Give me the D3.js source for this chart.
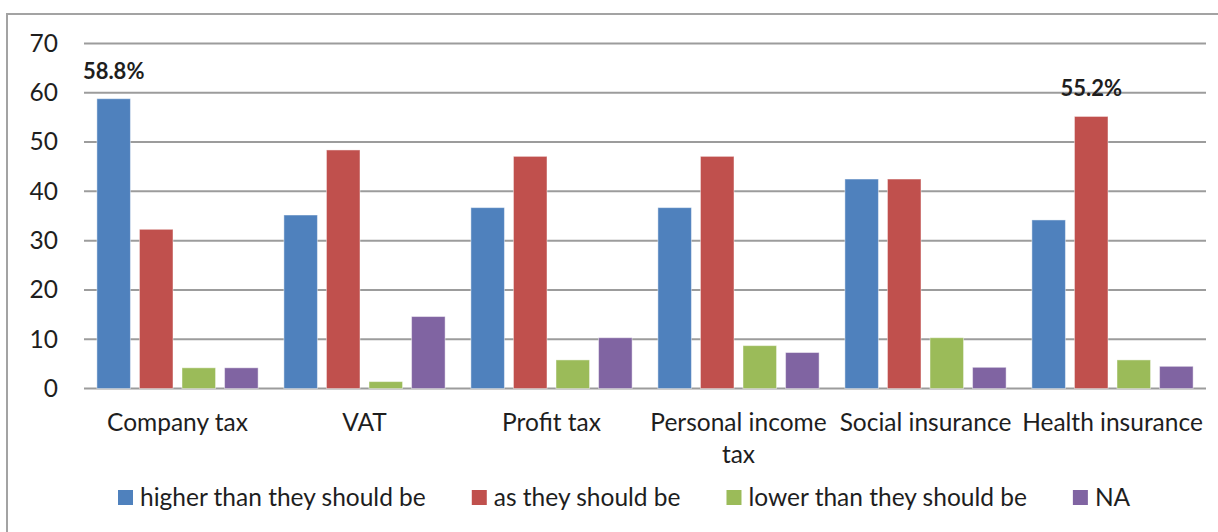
<!DOCTYPE html>
<html>
<head>
<meta charset="utf-8">
<script src="https://cdn.jsdelivr.net/npm/d3@7"></script>
<style>
  html, body { margin: 0; padding: 0; background: #fff; }
  svg { display: block; }
  text { font-family: Lato, "Open Sans", sans-serif; fill: #1e1e1e; }
</style>
</head>
<body>
<svg id="chart" width="1218" height="532"></svg>
<script>
// Survey answers on tax and contribution levels, percent of respondents
const categories = ["Company tax", "VAT", "Profit tax", "Personal income tax", "Social insurance", "Health insurance"];
const seriesNames = ["higher than they should be", "as they should be", "lower than they should be", "NA"];
const seriesColors = ["#4F81BD", "#C0504D", "#9BBB59", "#8064A2"];

const higher = [58.8, 35.2, 36.7, 36.7, 42.5, 34.2];
const asShould = [32.3, 48.4, 47.1, 47.1, 42.5, 55.2];
const lower = [4.2, 1.4, 5.8, 8.7, 10.3, 5.8];
const na = [4.2, 14.6, 10.3, 7.3, 4.3, 4.5];

const yTicks = [0, 10, 20, 30, 40, 50, 60, 70];

// Bars that carry a value label: [category index, series index]
const labelled = [[0, 0], [5, 1]];

const seriesValues = [higher, asShould, lower, na];

const svg = d3.select("#chart");

// Outer frame of the chart area
svg.append("rect")
  .attr("x", 7).attr("y", 14)
  .attr("width", 1260).attr("height", 560)
  .attr("fill", "none")
  .attr("stroke", "#a3a3a3")
  .attr("stroke-width", 2);

const x0 = d3.scaleBand().domain(categories).range([84, 1206]).padding(0);
const x1 = d3.scaleBand().domain(seriesNames).range([0, x0.bandwidth()])
  .paddingInner(0.212).paddingOuter(0.303);
const y = d3.scaleLinear().domain([0, 70]).range([388.5, 43.5]);
const color = d3.scaleOrdinal().domain(seriesNames).range(seriesColors);

// Horizontal gridlines
svg.append("g")
  .selectAll("line")
  .data(yTicks)
  .join("line")
  .attr("x1", x0.range()[0]).attr("x2", x0.range()[1])
  .attr("y1", d => y(d)).attr("y2", d => y(d))
  .attr("stroke", "#9c9c9c")
  .attr("stroke-width", 2);

// Value axis labels
const yAxis = svg.append("g")
  .attr("transform", `translate(${x0.range()[0]},0)`)
  .call(d3.axisLeft(y).tickValues(yTicks).tickSize(0).tickPadding(26));
yAxis.select(".domain").remove();
yAxis.selectAll("text")
  .style("font-family", "Lato, 'Open Sans', sans-serif")
  .style("font-size", "24.5px")
  .attr("fill", "#1e1e1e");

// Bars
const rows = categories.map((c, i) => ({
  category: c,
  values: seriesNames.map((s, j) => ({ series: s, value: seriesValues[j][i] }))
}));

const groups = svg.append("g")
  .selectAll("g")
  .data(rows)
  .join("g")
  .attr("transform", d => `translate(${x0(d.category)},0)`);

groups.selectAll("rect")
  .data(d => d.values)
  .join("rect")
  .attr("x", d => x1(d.series))
  .attr("width", x1.bandwidth())
  .attr("y", d => y(d.value))
  .attr("height", d => y(0) - y(d.value))
  .attr("fill", d => color(d.series))
  .attr("stroke", "rgba(255,255,255,0.45)")
  .attr("stroke-width", 1);

// Value labels above selected bars
svg.append("g")
  .selectAll("text")
  .data(labelled)
  .join("text")
  .attr("x", ([ci, si]) => x0(categories[ci]) + x1(seriesNames[si]) + x1.bandwidth() / 2)
  .attr("y", ([ci, si]) => y(seriesValues[si][ci]) - 20)
  .attr("text-anchor", "middle")
  .style("font-size", "22px")
  .style("font-weight", "bold")
  .text(([ci, si]) => d3.format(".1f")(seriesValues[si][ci]) + "%");

// Category labels, wrapped to the band width
const catAxis = svg.append("g")
  .selectAll("text")
  .data(categories)
  .join("text")
  .attr("text-anchor", "middle")
  .attr("x", d => x0(d) + x0.bandwidth() / 2)
  .attr("y", 431)
  .style("font-size", "24.5px");

catAxis.each(function(d) {
  const el = d3.select(this);
  const words = d.split(" ");
  const maxW = x0.bandwidth() + 6;
  let line = [];
  let tspan = el.append("tspan").attr("x", el.attr("x")).attr("dy", 0);
  words.forEach(w => {
    line.push(w);
    tspan.text(line.join(" "));
    if (tspan.node().getComputedTextLength() > maxW && line.length > 1) {
      line.pop();
      tspan.text(line.join(" "));
      line = [w];
      tspan = el.append("tspan").attr("x", el.attr("x")).attr("dy", 32).text(w);
    }
  });
});

// Legend laid out left to right
const legend = svg.append("g");
let lx = 118;
seriesNames.forEach((s, i) => {
  const item = legend.append("g").attr("transform", `translate(${lx},0)`);
  item.append("rect")
    .attr("x", 0).attr("y", 490)
    .attr("width", 15).attr("height", 15)
    .attr("fill", color(s));
  const t = item.append("text")
    .attr("x", 22).attr("y", 506)
    .style("font-size", "24.5px")
    .text(s);
  lx += 22 + t.node().getComputedTextLength() + 46;
});
</script>
</body>
</html>
